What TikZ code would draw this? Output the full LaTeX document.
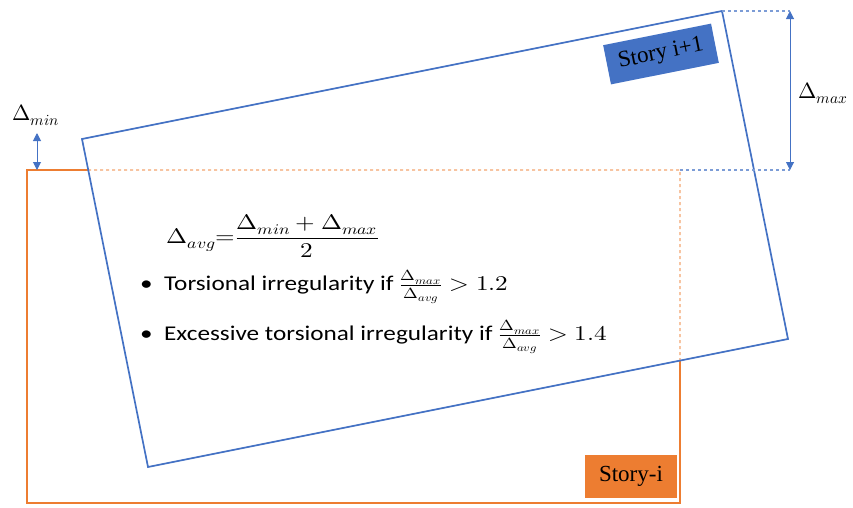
\documentclass[tikz,border=0pt]{standalone}
\usepackage{fontspec}
\usepackage{unicode-math}
\setmainfont{Carlito}
\setmathfont{Latin Modern Math}
\newfontfamily\tagfont{Liberation Serif}
\usetikzlibrary{arrows.meta, calc}
\definecolor{storyblue}{HTML}{4472C4}
\definecolor{storyorange}{HTML}{ED7D31}
\newcommand{\widetext}[1]{\scalebox{1.2}[1]{#1}}

\begin{document}
\begin{tikzpicture}[x=1pt, y=-1pt, >={Triangle[length=8pt, width=8pt]},
  every node/.style={font=\fontsize{21}{25}\selectfont, inner sep=0pt},
  blueline/.style={draw=storyblue, line width=1.7pt},
  orangeline/.style={draw=storyorange, line width=1.8pt},
  guide/.style={dash pattern=on 3pt off 3pt, line width=1.1pt},
  tag/.style={minimum height=40pt, font=\tagfont\fontsize{23}{26}\selectfont}]
  \useasboundingbox (0,0) rectangle (853,507);
  \coordinate (o1) at (27,170);
  \coordinate (o2) at (680,170);
  \coordinate (o3) at (680,503);
  \coordinate (o4) at (27,503);
  \coordinate (b1) at (82,139);
  \coordinate (b2) at (722,11);
  \coordinate (b3) at (788,339);
  \coordinate (b4) at (148,467);
  \coordinate (cl) at (intersection of b1--b4 and o1--o2);
  \coordinate (cr) at (intersection of b4--b3 and o2--o3);
  \coordinate (maxtop) at (790,11);
  \coordinate (maxbot) at (790,170);
  \coordinate (mintop) at (37,133);
  \coordinate (minbot) at (37,170);
  \draw[orangeline] (cl) -- (o1) -- (o4) -- (o3) -- (cr);
  \draw[orangeline, guide, draw=storyorange!70] (cl) -- (o2) -- (cr);
  \draw[blueline] (b1) -- (b2) -- (b3) -- (b4) -- cycle;
  \draw[guide, draw=storyblue!70] (b2) -- (maxtop);
  \draw[guide, draw=storyblue!70] (o2) -- (maxbot);
  \draw[<->, storyblue, line width=1pt] (maxtop) -- (maxbot);
  \draw[<->, storyblue, line width=1pt] (mintop) -- (minbot);
  \node (minlabel) at (36,115) {\fontsize{22}{25}\selectfont$\Delta_{min}$};
  \node (maxlabel) at (823,93) {\fontsize{22}{25}\selectfont$\Delta_{max}$};
  \node[tag, fill=storyblue, minimum width=110pt, rotate=11.3] (upperstory) at (661,54) {Story i+1};
  \node[tag, fill=storyorange, minimum width=92pt, minimum height=43pt] (lowerstory) at (631,476.5) {Story-i};
  \node (avgformula) at (273,236) {\widetext{$\Delta_{avg}{=}\dfrac{\Delta_{min}+\Delta_{max}}{2}$}};
  \node[anchor=west] (torsion) at (140,287) {\widetext{\makebox[20pt][l]{•}Torsional irregularity if $\frac{\Delta_{max}}{\Delta_{avg}} > 1.2$}};
  \node[anchor=west] (excessive) at (140,337) {\widetext{\makebox[20pt][l]{•}Excessive torsional irregularity if $\frac{\Delta_{max}}{\Delta_{avg}} > 1.4$}};
\end{tikzpicture}
\end{document}
